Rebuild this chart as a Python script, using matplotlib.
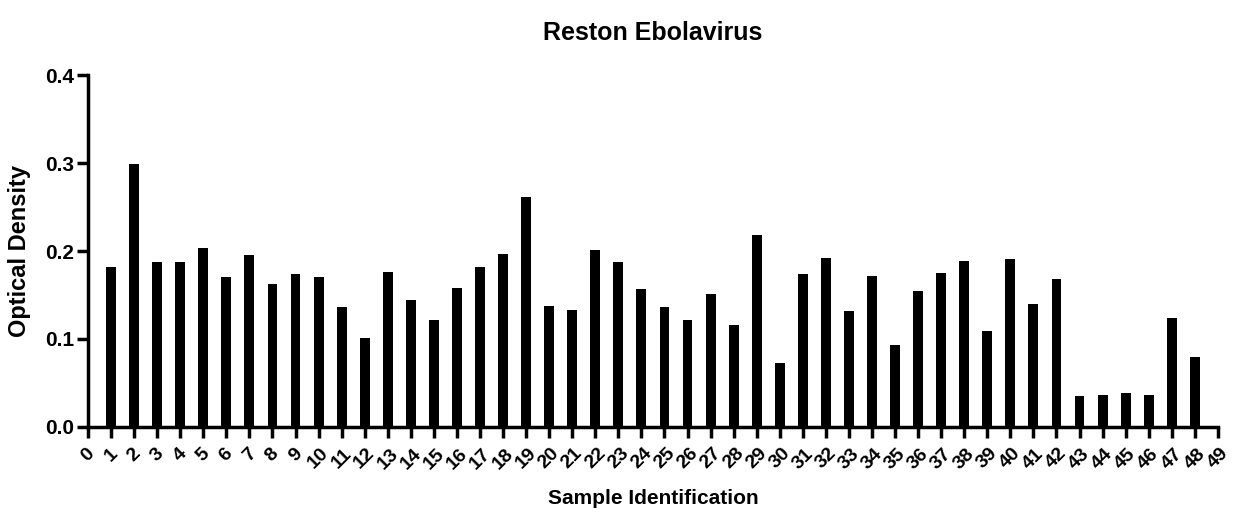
import numpy as np
import matplotlib.pyplot as plt
from matplotlib import font_manager

# pick a narrow bold face if one is installed
names = {f.name for f in font_manager.fontManager.ttflist}
narrow = 'Liberation Sans Narrow' if 'Liberation Sans Narrow' in names else 'Liberation Sans'

samples = list(range(1, 49))
od = [0.182, 0.299, 0.187, 0.188, 0.203, 0.170, 0.195, 0.162, 0.174, 0.171,
      0.136, 0.101, 0.176, 0.144, 0.121, 0.158, 0.182, 0.197, 0.261, 0.137,
      0.133, 0.201, 0.187, 0.157, 0.136, 0.121, 0.151, 0.116, 0.218, 0.073,
      0.174, 0.192, 0.132, 0.172, 0.093, 0.155, 0.175, 0.189, 0.109, 0.191,
      0.140, 0.168, 0.035, 0.036, 0.038, 0.036, 0.124, 0.080]
xticks = list(range(0, 50))
yticks = [0.0, 0.1, 0.2, 0.3, 0.4]

fig = plt.figure(figsize=(12.43, 5.29), dpi=100)
ax = fig.add_axes([0.0708, 0.193, 0.909, 0.665])

ax.bar(samples, od, width=0.43, color='black')

ax.set_xlim(0, 49)
ax.set_ylim(0, 0.4)
ax.set_xticks(xticks)
ax.set_xticklabels([str(t) for t in xticks], rotation=45, ha='center',
                   fontfamily=narrow, fontweight='bold', fontsize=14)
ax.set_yticks(yticks)
ax.set_yticklabels(['%.1f' % t for t in yticks],
                   fontfamily=narrow, fontweight='bold', fontsize=15)

for s in ['top', 'right']:
    ax.spines[s].set_visible(False)
for s in ['left', 'bottom']:
    ax.spines[s].set_linewidth(2.5)
ax.tick_params(axis='both', direction='out', width=2.5, length=8)
ax.tick_params(axis='x', pad=5)
ax.tick_params(axis='y', pad=2)

ax.set_title('Reston Ebolavirus', fontfamily=narrow, fontweight='bold',
             fontsize=18, pad=25)
ax.set_xlabel('Sample Identification', fontfamily=narrow, fontweight='bold',
              fontsize=15, labelpad=12)
ax.set_ylabel('Optical Density', fontfamily='Liberation Sans', fontweight='bold',
              fontsize=17, labelpad=10)

fig.savefig('out.png', dpi=100)
